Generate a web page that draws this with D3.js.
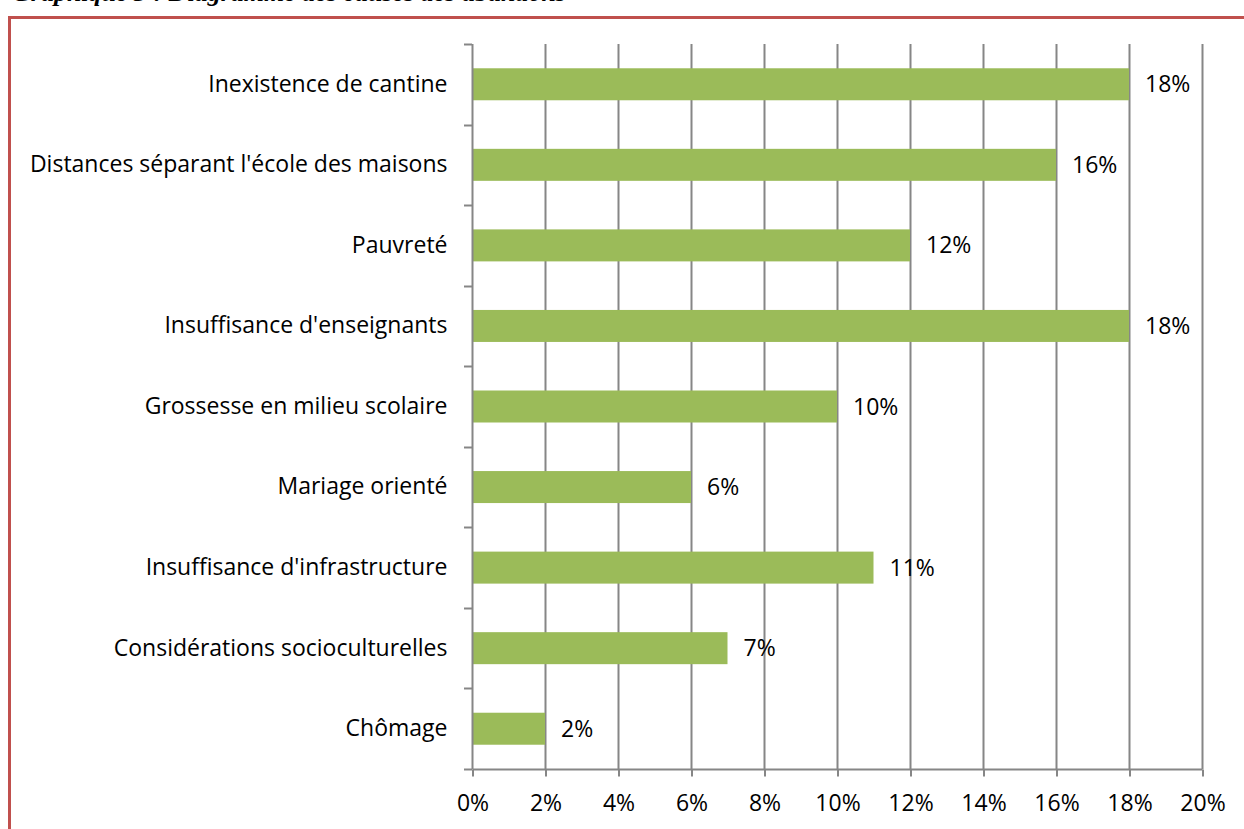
<!DOCTYPE html>
<html><head><meta charset="utf-8">
<script src="https://cdn.jsdelivr.net/npm/d3@7"></script>
<style>body{margin:0;background:#fff;} svg{display:block;}</style>
</head><body>
<svg id="c" width="1244" height="829"></svg>
<script>
const categories = ["Inexistence de cantine","Distances séparant l'école des maisons","Pauvreté","Insuffisance d'enseignants","Grossesse en milieu scolaire","Mariage orienté","Insuffisance d'infrastructure","Considérations socioculturelles","Chômage"];
const values = [18,16,12,18,10,6,11,7,2];
const xTicks = [0,2,4,6,8,10,12,14,16,18,20];
const title = "Graphique 3 : Diagramme des causes des abandons";

const svg = d3.select("#c");
const font = "'Open Sans', Lato, sans-serif";
const fs = 23;
const pL = 472, pR = 1202, pT = 44, pB = 769;

// title (cut by top edge, as in the source)
svg.append("text").attr("x", 12).attr("y", 1).attr("font-family","'Liberation Serif', serif")
  .attr("font-weight","bold").attr("font-style","italic").attr("font-size",26).text(title);

// border
svg.append("path").attr("d", `M9.5,829 L9.5,17.5 L1244,17.5`).attr("fill","none").attr("stroke","#C0504D").attr("stroke-width",3);

const x = d3.scaleLinear().domain([0,20]).range([pL,pR]);
const yb = d3.scaleBand().domain(categories).range([pT,pB]);

// gridlines
svg.append("g").selectAll("line").data(xTicks.slice(1)).join("line")
  .attr("x1", d=>x(d)+0.5).attr("x2", d=>x(d)+0.5).attr("y1", pT).attr("y2", pB)
  .attr("stroke","#868686").attr("stroke-width",2);

// bars
svg.append("g").selectAll("rect").data(values).join("rect")
  .attr("x", x(0)).attr("y",(d,i)=>yb(categories[i]) + yb.bandwidth()/2 - 16)
  .attr("width", d=>x(d)-x(0)).attr("height", 32).attr("fill","#9BBB59");

// x axis
const xAxis = d3.axisBottom(x).tickValues(xTicks).tickFormat(d=>d+"%").tickSize(7).tickPadding(18);
const gx = svg.append("g").attr("transform",`translate(0.5,${pB+0.5})`).call(xAxis);
gx.select(".domain").attr("stroke","#868686").attr("stroke-width",2).attr("d",`M${pL},0H${pR}`);
gx.selectAll(".tick line").attr("stroke","#868686").attr("stroke-width",2);
gx.selectAll(".tick text").attr("font-family",font).attr("font-size",fs).attr("fill","#000");

// y axis
const yAxis = d3.axisLeft(yb).tickSize(0).tickPadding(25);
const gy = svg.append("g").attr("transform",`translate(${pL+0.5},0)`).call(yAxis);
gy.select(".domain").attr("stroke","#868686").attr("stroke-width",2).attr("d",`M0,${pT}V${pB}`);
gy.selectAll(".tick text").attr("font-family",font).attr("font-size",fs).attr("fill","#000");
// category boundary ticks
const bounds = categories.map(c=>yb(c)).concat([pB]);
svg.append("g").selectAll("line").data(bounds).join("line")
  .attr("x1", pL-8).attr("x2", pL).attr("y1", d=>Math.round(d)+0.5).attr("y2", d=>Math.round(d)+0.5)
  .attr("stroke","#868686").attr("stroke-width",2);

// value labels
svg.append("g").selectAll("text").data(values).join("text")
  .attr("x", d=>x(d)+16).attr("y",(d,i)=>yb(categories[i]) + yb.bandwidth()/2)
  .attr("dy","0.35em").attr("font-family",font).attr("font-size",fs).text(d=>d+"%");
</script>
</body></html>
